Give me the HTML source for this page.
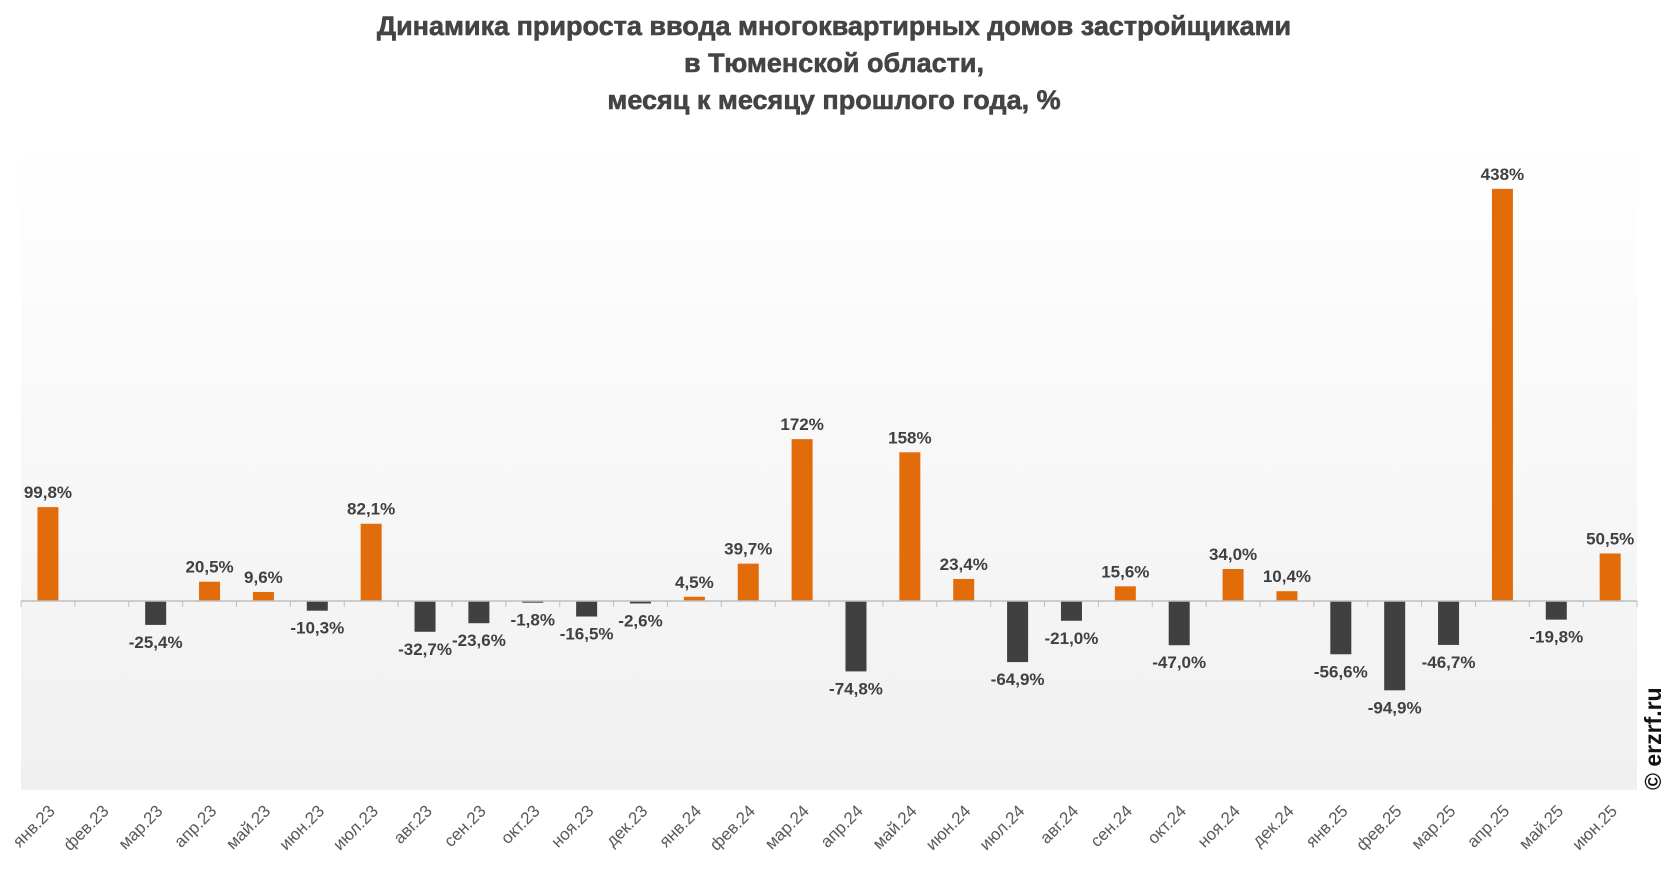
<!DOCTYPE html>
<html><head><meta charset="utf-8"><style>body{margin:0;background:#fff}svg{display:block}</style></head>
<body>
<svg id="c" width="1667" height="873" xmlns="http://www.w3.org/2000/svg" font-family="Liberation Sans, sans-serif">
<defs><linearGradient id="g" x1="0" y1="0" x2="0" y2="1"><stop offset="0" stop-color="#ffffff"/><stop offset="1" stop-color="#f0f0f0"/></linearGradient></defs>
<rect x="21" y="140" width="1616" height="650" fill="url(#g)"/>
<g font-weight="bold" font-size="27" fill="#444" text-anchor="middle" stroke="#444" stroke-width="0.6">
<text x="834" y="35">Динамика прироста ввода многоквартирных домов застройщиками</text>
<text x="834" y="72">в Тюменской области,</text>
<text x="834" y="109">месяц к месяцу прошлого года, %</text>
</g>
<text transform="translate(1661,790) rotate(-90)" font-size="23" font-weight="bold" fill="#111">© erzrf.ru</text>
<g id="bars"></g>
</svg>
<script>
const v=[99.8,null,-25.4,20.5,9.6,-10.3,82.1,-32.7,-23.6,-1.8,-16.5,-2.6,4.5,39.7,172,-74.8,158,23.4,-64.9,-21.0,15.6,-47.0,34.0,10.4,-56.6,-94.9,-46.7,438,-19.8,50.5];
const m=["янв","фев","мар","апр","май","июн","июл","авг","сен","окт","ноя","дек"];
const s=53.87,z=601,k=0.941;let h="";
for(let i=0;i<30;i++){const cx=21+s/2+s*i;const val=v[i];
 if(val!==null){const hh=Math.abs(val)*k;
  if(val>0){h+=`<rect x="${cx-10.5}" y="${z-hh}" width="21" height="${hh}" fill="#e36c0a"/>`;
   h+=`<text x="${cx}" y="${z-hh-9}" font-size="17" font-weight="bold" fill="#404040" text-anchor="middle">${val>=100?Math.round(val):val.toFixed(1).replace('.',',')}%</text>`;}
  else{h+=`<rect x="${cx-10.5}" y="${z}" width="21" height="${hh}" fill="#404040"/>`;
   h+=`<text x="${cx}" y="${z+hh+23}" font-size="17" font-weight="bold" fill="#404040" text-anchor="middle">${val.toFixed(1).replace('.',',')}%</text>`;}}
 const y=23+Math.floor(i/12);
 h+=`<text transform="translate(${cx+8},812) rotate(-45)" font-size="17" fill="#595959" text-anchor="end">${m[i%12]}.${y}</text>`;
}
h+=`<line x1="21" y1="${z}" x2="1637" y2="${z}" stroke="#bfbfbf" stroke-width="1.5"/>`;
for(let i=0;i<=30;i++){const x=21+s*i;h+=`<line x1="${x}" y1="${z}" x2="${x}" y2="${z+6}" stroke="#bfbfbf"/>`;}
document.getElementById("bars").innerHTML=h;
</script>
</body></html>
